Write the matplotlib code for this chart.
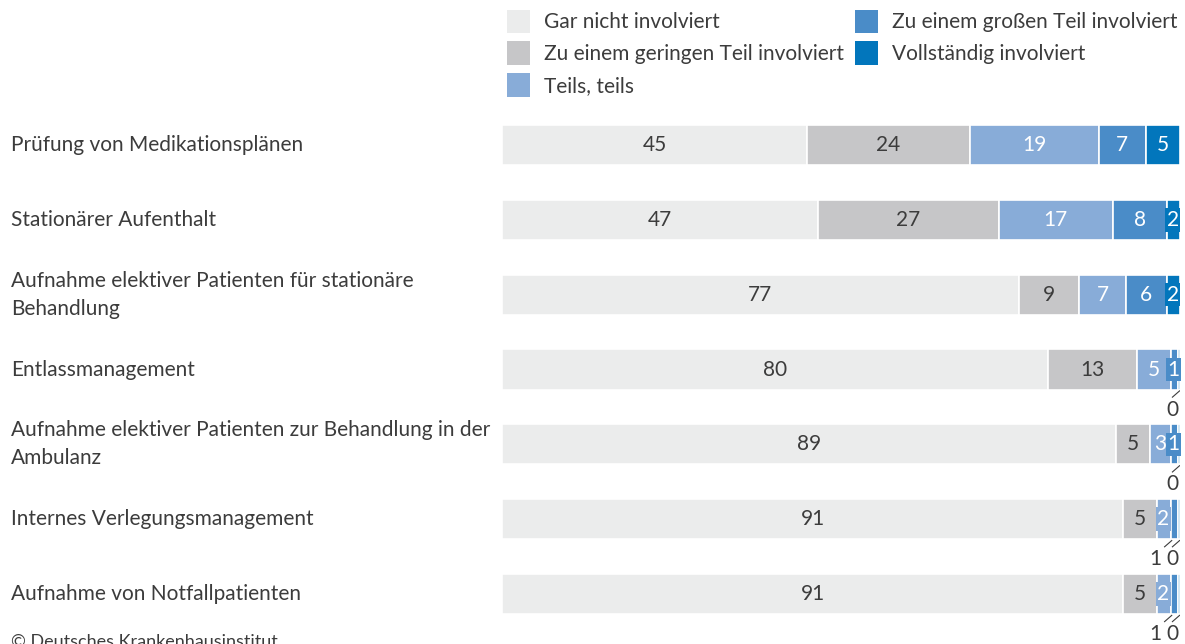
import numpy as np
import matplotlib
matplotlib.use('Agg')
import matplotlib.pyplot as plt
from matplotlib.patches import Patch
from matplotlib.transforms import blended_transform_factory, offset_copy

plt.rcParams['font.family'] = ['Lato', 'DejaVu Sans']

# Anteile in Prozent je Aufgabe
categories = [
    'Prüfung von Medikationsplänen',
    'Stationärer Aufenthalt',
    'Aufnahme elektiver Patienten für stationäre\nBehandlung',
    'Entlassmanagement',
    'Aufnahme elektiver Patienten zur Behandlung in der\nAmbulanz',
    'Internes Verlegungsmanagement',
    'Aufnahme von Notfallpatienten',
]
gar_nicht = [45, 47, 77, 80, 89, 91, 91]
gering = [24, 27, 9, 13, 5, 5, 5]
teils = [19, 17, 7, 5, 3, 2, 2]
gross = [7, 8, 6, 1, 1, 1, 1]
voll = [5, 2, 2, 0, 0, 0, 0]

levels = ['Gar nicht involviert', 'Zu einem geringen Teil involviert', 'Teils, teils',
          'Zu einem großen Teil involviert', 'Vollständig involviert']
colors = ['#ebecec', '#c6c6c8', '#88acd8', '#4a8cc8', '#0276bc']
text_colors = ['#3c3c3c', '#3c3c3c', 'white', 'white', 'white']
ink = '#3c3c3c'
fs = 15

# Segmente, deren Wert unterhalb des Balkens steht (Zeile -> Spaltenindizes)
outside = {3: [4], 4: [4], 5: [3, 4], 6: [3, 4]}

data = np.array([gar_nicht, gering, teils, gross, voll], dtype=float).T

fig = plt.figure(figsize=(11.85, 6.44), dpi=100)
W, H = 1185, 644
ax = fig.add_axes([502 / W, 1 - 631.4 / H, 678 / W, 523.8 / H])
ax.set_xlim(0, 100)
ax.set_ylim(6.5, -0.5)
ax.axis('off')

bar_h = 0.535
for i, row in enumerate(data):
    # kleine Werte bleiben als schmaler Streifen sichtbar
    widths = np.maximum(row, 0.35)
    widths = widths / widths.sum() * 100
    left = 0
    for j, (v, w) in enumerate(zip(row, widths)):
        ax.barh(i, w, left=left, height=bar_h, color=colors[j],
                edgecolor='white', linewidth=1.2)
        cx = left + w / 2
        label = f'{int(v)}'
        if j in outside.get(i, []):
            # kurze Schräglinie unter dem Segment, Wert darunter
            x0 = left + (w if j == 4 else 0.2 * w)
            y0 = i + bar_h / 2
            base = offset_copy(ax.transData, fig=fig, x=0, y=-1, units='dots')
            end = offset_copy(ax.transData, fig=fig, x=-8, y=-8, units='dots')
            p0 = base.transform((x0, y0))
            p1 = end.transform((x0, y0))
            ax.plot([p0[0], p1[0]], [p0[1], p1[1]], color=ink, lw=0.8,
                    transform=None, solid_capstyle='butt')
            dx = -17 if j == 3 else -8
            tt = offset_copy(ax.transData, fig=fig, x=dx, y=-20, units='dots')
            ax.text(x0, y0, label, transform=tt, ha='center', va='center',
                    fontsize=fs, color=ink)
        elif w < 3:
            ax.text(cx - 0.1, i, label, ha='center', va='center', fontsize=fs,
                    color=text_colors[j],
                    bbox=dict(boxstyle='square,pad=0.08', fc=colors[j], ec='none'))
        else:
            ax.text(cx, i, label, ha='center', va='center', fontsize=fs,
                    color=text_colors[j])
        left += w

# Beschriftung der Aufgaben links
trans = blended_transform_factory(fig.transFigure, ax.transData)
for i, name in enumerate(categories):
    ax.text(11 / W, i, name, transform=trans, ha='left', va='center',
            fontsize=fs, color=ink, linespacing=1.5)

handles = [Patch(facecolor=c, edgecolor='none') for c in colors]
fig.legend(handles, levels, ncol=2, loc='upper left',
           bbox_to_anchor=(488 / W, 1 + 9 / H), frameon=False, fontsize=fs,
           handlelength=1.1, handleheight=1.35, handletextpad=0.7,
           columnspacing=0.5, labelspacing=0.4, labelcolor=ink)

fig.text(11 / W, 1 - 634 / H, '© Deutsches Krankenhausinstitut', ha='left', va='top',
         fontsize=13, color=ink)

fig.savefig('out.png', dpi=100)
